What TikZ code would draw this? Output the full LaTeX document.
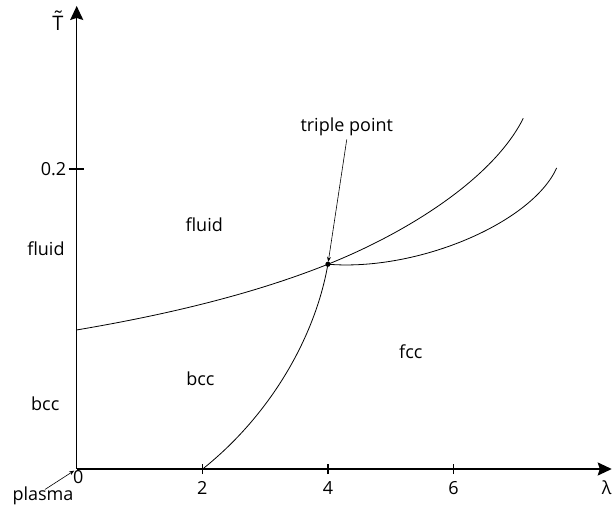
\documentclass[tikz,border=0pt]{standalone}
\usepackage{fontspec}
\setmainfont{Open Sans}
\usetikzlibrary{arrows.meta,positioning,calc}
\tikzset{
  axisline/.style={line width=1.6pt,-{Stealth[length=14pt,width=13pt,inset=2pt]}},
  tickmark/.style={line width=1.2pt},
  phaseline/.style={line width=0.8pt},
  pointer/.style={-{Stealth[length=5pt,width=4pt]},line width=0.6pt},
  regionlabel/.style={font=\fontsize{18}{20}\selectfont},
  ticklabel/.style={font=\fontsize{18}{20}\selectfont}
}
\newcommand{\tildeT}{\ooalign{T\cr\hidewidth\raisebox{0.25em}{\char"02DC}\hidewidth\cr}}
\begin{document}
\begin{tikzpicture}[x=62.8pt,y=1500pt]
  \useasboundingbox (-76.7pt,-43pt) rectangle (536.3pt,469pt);
  \coordinate (origin) at (0,0);
  \coordinate (triple) at (4,0.1365);
  % axes
  \draw[axisline] (origin) -- (8.52,0);
  \draw[axisline] (origin) -- (0,0.3087);
  \node[ticklabel] (lamlabel) at (8.44,-0.0127) {λ};
  \node[ticklabel,font=\fontsize{20}{22}\selectfont] (templabel) at (-0.298,0.297) {\tildeT};
  \foreach \lam in {2,4,6}
    \draw[tickmark] (\lam,0) ++(0,-5pt) -- ++(0,10pt);
  \foreach \lam in {2,4,6}
    \node[ticklabel,below=9pt] at (\lam,0) {\lam};
  \node[ticklabel,below,inner sep=1pt,xshift=1.5pt] (zerolabel) at (origin) {0};
  \draw[tickmark] (0,0.2) ++(-8pt,0) -- ++(15pt,0);
  \node[ticklabel,left=7pt] at (0,0.2) {0.2};
  % phase boundaries
  \draw[phaseline] (0,0.0927) .. controls (1.274,0.1017) and (2.723,0.1151) .. (triple)
    .. controls (5.271,0.1578) and (6.634,0.1938) .. (7.111,0.2338);
  \draw[phaseline] (triple) .. controls (5.430,0.1317) and (7.245,0.164) .. (7.643,0.2007);
  \draw[phaseline] (2.006,0) .. controls (3.121,0.0373) and (3.807,0.0898) .. (triple);
  \fill (triple) circle (2.6pt);
  % labels
  \node[regionlabel] (triplelabel) at (4.30,0.228) {triple point};
  \draw[pointer,shorten >=2.5pt] (triplelabel.south) -- (triple);
  \node[regionlabel] at (2.03,0.163) {fluid};
  \node[regionlabel] at (-0.49,0.1467) {fluid};
  \node[regionlabel] at (1.97,0.060) {bcc};
  \node[regionlabel] at (-0.50,0.0433) {bcc};
  \node[regionlabel] at (5.32,0.078) {fcc};
  \node[regionlabel] (plasma) at (-0.537,-0.018) {plasma};
  \draw[pointer,shorten >=3pt] ($(plasma.north)+(2pt,-6pt)$) -- (origin);
\end{tikzpicture}
\end{document}
